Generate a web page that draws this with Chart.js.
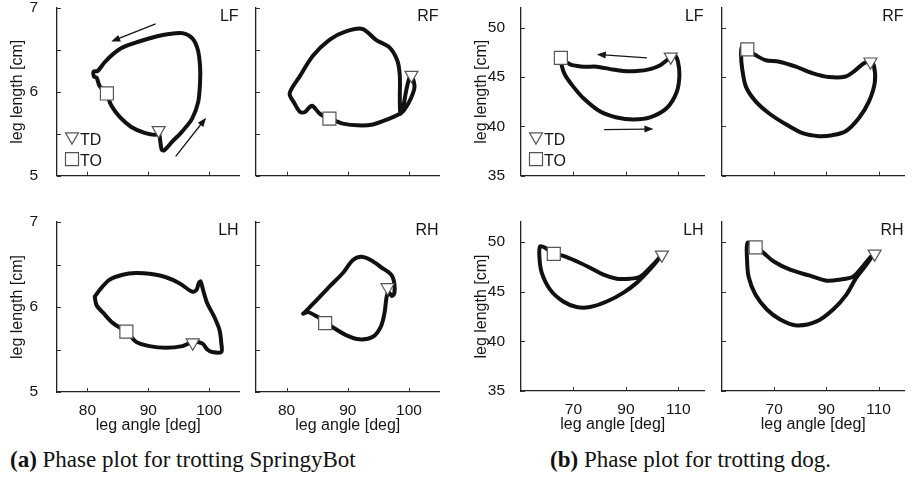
<!DOCTYPE html>
<html>
<head>
<meta charset="utf-8">
<script src="https://cdn.jsdelivr.net/npm/chart.js@4/dist/chart.umd.min.js"></script>
<style>
  body { margin: 0; background: #fff; }
  #fig { position: relative; width: 913px; height: 485px; overflow: hidden; }
  #fig canvas { position: absolute; }
  .cap { position: absolute; top: 447px; font: 23px "Liberation Serif", serif; line-height: 26px; color: #111; white-space: nowrap; }
</style>
</head>
<body>
<div id="fig">
  <div class="cap" style="left:10px"><b>(a)</b> Phase plot for trotting SpringyBot</div>
  <div class="cap" style="left:550px"><b>(b)</b> Phase plot for trotting dog.</div>
</div>
<script>
// axis ticks
const botAngleTicks = [80, 90, 100];
const botLengthTicks = [5, 5.5, 6, 6.5, 7];
const botLengthLabels = [5, 6, 7];
const dogAngleTicks = [70, 90, 110];
const dogLengthTicks = [35, 40, 45, 50];
const dogLengthLabels = [35, 40, 45, 50];

// SpringyBot loops: leg angle [deg], leg length [cm]
const botLFAngle = [91.7, 91.9, 92.2, 92.6, 94.0, 95.6, 97.2, 98.2, 98.5, 98.5, 98.1, 97.2, 95.6, 93.4, 91.3, 88.5, 85.8, 84.2, 82.8, 81.7, 81.0, 81.1, 81.5, 82.0, 83.1, 83.9, 85.3, 87.2, 89.4, 91.3, 91.7];
const botLFLength = [5.55, 5.45, 5.31, 5.30, 5.41, 5.53, 5.68, 5.88, 6.11, 6.31, 6.51, 6.64, 6.70, 6.69, 6.66, 6.60, 6.53, 6.45, 6.35, 6.25, 6.24, 6.18, 6.17, 6.07, 5.98, 5.84, 5.70, 5.58, 5.51, 5.49, 5.55];
const botRFAngle = [86.9, 85.4, 84.3, 83.8, 83.0, 82.2, 81.3, 80.5, 82.2, 84.3, 87.0, 89.7, 92.4, 94.6, 96.8, 98.1, 98.5, 98.5, 98.6, 99.0, 99.5, 100.0, 100.4, 100.9, 100.3, 99.2, 98.6, 96.8, 94.1, 91.6, 89.2, 88.1, 86.9];
const botRFLength = [5.68, 5.74, 5.83, 5.82, 5.76, 5.76, 5.86, 5.98, 6.19, 6.43, 6.62, 6.72, 6.75, 6.62, 6.53, 6.37, 6.19, 5.92, 5.74, 5.80, 6.00, 6.15, 6.20, 6.06, 5.92, 5.78, 5.74, 5.68, 5.61, 5.60, 5.62, 5.65, 5.68];
const botLHAngle = [81.2, 82.0, 83.6, 85.8, 88.0, 90.2, 92.9, 95.1, 97.2, 97.9, 98.3, 98.6, 99.0, 99.7, 100.8, 101.7, 102.0, 102.0, 100.5, 99.7, 98.9, 97.4, 95.6, 92.9, 90.2, 88.0, 86.4, 84.2, 82.6, 81.5, 81.2];
const botLHLength = [6.12, 6.20, 6.32, 6.38, 6.40, 6.39, 6.35, 6.28, 6.18, 6.20, 6.28, 6.30, 6.20, 6.04, 5.89, 5.73, 5.57, 5.47, 5.47, 5.50, 5.57, 5.59, 5.54, 5.52, 5.54, 5.59, 5.71, 5.81, 5.93, 6.02, 6.12];
const botRHAngle = [83.0, 84.9, 87.0, 89.2, 90.8, 92.2, 93.8, 95.4, 97.1, 97.6, 97.6, 97.2, 96.6, 96.3, 96.0, 95.4, 94.1, 91.9, 89.7, 87.8, 86.4, 84.9, 83.5, 82.7, 83.0];
const botRHLength = [5.94, 6.08, 6.24, 6.40, 6.55, 6.59, 6.55, 6.47, 6.38, 6.28, 6.16, 6.13, 6.18, 6.10, 5.93, 5.77, 5.65, 5.62, 5.67, 5.75, 5.82, 5.89, 5.94, 5.92, 5.94];

// dog loops: leg angle [deg], leg length [cm]
const dogLFAngle = [65.3, 65.5, 66.8, 70.0, 73.8, 80.2, 86.5, 92.9, 99.2, 105.6, 109.4, 110.4, 109.8, 108.6, 106.9, 105.6, 103.1, 99.2, 94.2, 89.0, 84.0, 78.9, 73.8, 68.7, 65.3];
const dogLFLength = [46.95, 46.2, 45.2, 44.0, 42.85, 41.5, 40.9, 40.7, 40.9, 41.85, 43.5, 45.2, 46.6, 47.2, 47.0, 46.7, 46.2, 45.8, 45.6, 45.6, 45.8, 46.05, 46.05, 46.28, 46.95];
const dogRFAngle = [59.5, 63.0, 66.8, 71.9, 78.3, 84.6, 91.0, 97.4, 101.2, 104.4, 106.7, 108.2, 108.6, 106.3, 102.5, 97.4, 92.3, 87.2, 80.9, 74.5, 68.1, 63.0, 59.2, 57.7, 57.3, 57.7, 59.5];
const dogRFLength = [47.8, 47.2, 46.7, 46.55, 46.05, 45.4, 45.0, 45.05, 45.7, 46.4, 46.6, 46.2, 44.5, 42.5, 40.85, 39.5, 39.1, 39.0, 39.3, 40.2, 41.3, 42.5, 44.0, 45.9, 47.4, 48.1, 47.8];
const dogLHAngle = [62.3, 66.1, 71.2, 76.3, 81.4, 86.5, 91.6, 95.4, 99.2, 102.4, 103.7, 101.8, 98.0, 94.2, 89.1, 82.7, 76.3, 71.2, 66.1, 61.1, 57.9, 57.0, 57.3, 59.2, 62.3];
const dogLHLength = [48.8, 48.6, 48.05, 47.4, 46.7, 46.3, 46.3, 46.5, 47.4, 48.3, 48.8, 48.05, 46.9, 45.9, 44.9, 44.0, 43.45, 43.45, 44.0, 45.2, 46.9, 48.55, 49.55, 49.4, 48.8];
const dogRHAngle = [62.8, 65.9, 69.7, 76.1, 83.7, 90.1, 95.1, 100.2, 104.0, 107.2, 108.5, 105.3, 101.5, 97.7, 92.6, 86.3, 78.6, 72.3, 67.2, 62.8, 60.2, 59.6, 59.8, 62.8];
const dogRHLength = [49.5, 48.9, 48.05, 47.2, 46.6, 46.1, 46.2, 46.5, 47.55, 48.55, 48.9, 47.7, 46.4, 44.7, 43.2, 42.0, 41.6, 42.2, 43.2, 44.7, 46.5, 48.2, 49.9, 49.5];

// touch-down / take-off events [angle, length]
const botTD = { LF: [91.7, 5.54], RF: [100.4, 6.20], LH: [97.3, 5.58], RH: [96.5, 6.23] };
const botTO = { LF: [83.2, 5.98], RF: [87.0, 5.68], LH: [86.4, 5.71], RH: [86.3, 5.81] };
const dogTD = { LF: [107.1, 47.05], RF: [106.9, 46.55], LH: [103.7, 48.7], RH: [108.5, 48.8] };
const dogTO = { LF: [65.2, 46.95], RF: [59.7, 47.8], LH: [62.5, 48.8], RH: [62.9, 49.45] };

// direction arrows [fromAngle, fromLength, toAngle, toLength]
const botArrows = [[91.2, 6.81, 83.9, 6.60], [94.5, 5.23, 99.5, 5.69]];
const dogArrows = [[98.0, 46.95, 78.9, 47.29], [81.7, 39.66, 100.5, 39.73]];

const FONT = '"Liberation Sans", Arial, sans-serif';
const INK = '#151515';
const fig = document.getElementById('fig');

const bot = { xr: [75, 105], yr: [5, 7], xt: botAngleTicks, yt: botLengthTicks, yl: botLengthLabels, td: botTD, to: botTO };
const dog = { xr: [50, 120], yr: [35, 52], xt: dogAngleTicks, yt: dogLengthTicks, yl: dogLengthLabels, td: dogTD, to: dogTO };

const panels = [
  { set: bot, leg: 'LF', ang: botLFAngle, len: botLFLength, box: [57, 8, 240, 178], yw: 57, titlePad: 7.5, lblPad: 11, xh: 8, key: true, arrows: botArrows },
  { set: bot, leg: 'RF', ang: botRFAngle, len: botRFLength, box: [256, 8, 440, 178], yw: 12, xh: 8 },
  { set: bot, leg: 'LH', ang: botLHAngle, len: botLHLength, box: [57, 222, 240, 392], yw: 57, titlePad: 7.5, lblPad: 11, xh: 50 },
  { set: bot, leg: 'RH', ang: botRHAngle, len: botRHLength, box: [256, 222, 440, 392], yw: 12, xh: 50 },
  { set: dog, leg: 'LF', ang: dogLFAngle, len: dogLFLength, box: [521, 8, 705, 178], yw: 71, titlePad: 21.5, lblPad: 8, xh: 8, key: true, arrows: dogArrows },
  { set: dog, leg: 'RF', ang: dogRFAngle, len: dogRFLength, box: [722, 8, 905, 178], yw: 12, xh: 8 },
  { set: dog, leg: 'LH', ang: dogLHAngle, len: dogLHLength, box: [521, 222, 705, 391], yw: 71, titlePad: 21.5, lblPad: 8, xh: 50 },
  { set: dog, leg: 'RH', ang: dogRHAngle, len: dogRHLength, box: [722, 222, 905, 391], yw: 12, xh: 50 }
];

const tdStyle = { pointStyle: 'triangle', rotation: 180, radius: 7.5 };
const toStyle = { pointStyle: 'rect', rotation: 0, radius: 9.2 };

function marker(ctx, style, x, y) {
  ctx.save();
  ctx.fillStyle = '#fff';
  ctx.strokeStyle = '#555';
  ctx.lineWidth = 1.2;
  Chart.helpers.drawPoint(ctx, { ...style, borderWidth: 1.2 }, x, y);
  ctx.restore();
}

function decorate(chart, p) {
  const { ctx, chartArea: a, scales: { x, y } } = chart;
  ctx.save();
  // inward tick marks
  ctx.strokeStyle = '#333';
  ctx.lineWidth = 1;
  ctx.beginPath();
  for (const v of p.set.xt) {
    const px = Math.round(x.getPixelForValue(v)) + 0.5;
    ctx.moveTo(px, a.bottom); ctx.lineTo(px, a.bottom - 4);
  }
  for (const v of p.set.yt) {
    const py = Math.round(y.getPixelForValue(v)) + 0.5;
    ctx.moveTo(a.left, py); ctx.lineTo(a.left + 4, py);
  }
  ctx.stroke();

  // leg name in the corner
  ctx.fillStyle = INK;
  ctx.font = '16px ' + FONT;
  ctx.textAlign = 'right';
  ctx.textBaseline = 'alphabetic';
  ctx.fillText(p.leg, a.right - 1, a.top + 12.5);

  // motion direction arrows
  for (const [x0, y0, x1, y1] of p.arrows || []) {
    const ax = x.getPixelForValue(x0), ay = y.getPixelForValue(y0);
    const bx = x.getPixelForValue(x1), by = y.getPixelForValue(y1);
    const t = Math.atan2(by - ay, bx - ax);
    ctx.strokeStyle = INK;
    ctx.lineWidth = 1.3;
    ctx.beginPath();
    ctx.moveTo(ax, ay);
    ctx.lineTo(bx - 7 * Math.cos(t), by - 7 * Math.sin(t));
    ctx.stroke();
    ctx.beginPath();
    ctx.moveTo(bx, by);
    ctx.lineTo(bx - 9 * Math.cos(t) + 3.5 * Math.sin(t), by - 9 * Math.sin(t) - 3.5 * Math.cos(t));
    ctx.lineTo(bx - 9 * Math.cos(t) - 3.5 * Math.sin(t), by - 9 * Math.sin(t) + 3.5 * Math.cos(t));
    ctx.closePath();
    ctx.fillStyle = INK;
    ctx.fill();
  }

  // TD / TO key
  if (p.key) {
    const kx = a.left + 15;
    marker(ctx, tdStyle, kx, a.bottom - 39);
    marker(ctx, toStyle, kx, a.bottom - 16.5);
    ctx.fillStyle = INK;
    ctx.textAlign = 'left';
    ctx.fillText('TD', kx + 8, a.bottom - 31);
    ctx.fillText('TO', kx + 8, a.bottom - 10);
  }
  ctx.restore();
}

function makePanel(p) {
  const padT = 12, padR = 10;
  const [l, t, r, b] = p.box;
  const cv = document.createElement('canvas');
  cv.width = p.yw + (r - l) + padR;
  cv.height = padT + (b - t) + p.xh;
  cv.style.left = (l - p.yw) + 'px';
  cv.style.top = (t - padT) + 'px';
  fig.appendChild(cv);

  const s = p.set;
  const loop = p.ang.map((v, i) => ({ x: v, y: p.len[i] }));
  const leftCol = p.titlePad !== undefined;
  const bottomRow = p.xh > 20;
  const tickFont = { family: FONT, size: 15.5 };
  const titleFont = { family: FONT, size: 16 };
  const zeroPad = sc => { sc.paddingLeft = 0; sc.paddingRight = 0; sc.paddingTop = 0; sc.paddingBottom = 0; };

  new Chart(cv, {
    type: 'scatter',
    data: {
      datasets: [
        {
          data: [{ x: s.td[p.leg][0], y: s.td[p.leg][1] }],
          pointStyle: 'triangle', rotation: 180, pointRadius: 7.5,
          backgroundColor: '#fff', borderColor: '#555', borderWidth: 1.2, order: 0
        },
        {
          data: [{ x: s.to[p.leg][0], y: s.to[p.leg][1] }],
          pointStyle: 'rect', pointRadius: 9.2,
          backgroundColor: '#fff', borderColor: '#555', borderWidth: 1.2, order: 0
        },
        {
          data: loop, showLine: true, pointRadius: 0,
          borderColor: '#111', borderWidth: 4, tension: 0.3,
          borderJoinStyle: 'round', borderCapStyle: 'round', order: 1
        }
      ]
    },
    options: {
      responsive: false,
      animation: false,
      events: [],
      layout: { padding: { top: padT, right: padR, left: 0, bottom: 0 } },
      plugins: { legend: { display: false }, tooltip: { enabled: false } },
      scales: {
        x: {
          type: 'linear', min: s.xr[0], max: s.xr[1],
          afterBuildTicks: sc => { sc.ticks = s.xt.map(v => ({ value: v })); },
          afterFit: sc => { sc.height = p.xh; zeroPad(sc); },
          grid: { display: false },
          border: { display: true, color: '#222', width: 1.3 },
          ticks: { display: bottomRow, font: tickFont, color: INK, padding: 1, maxRotation: 0 },
          title: { display: bottomRow, text: 'leg angle [deg]', font: titleFont, color: INK, padding: { top: 0, bottom: 6.5 } }
        },
        y: {
          type: 'linear', min: s.yr[0], max: s.yr[1],
          afterBuildTicks: sc => { sc.ticks = s.yt.map(v => ({ value: v })); },
          afterFit: sc => { sc.width = p.yw; zeroPad(sc); },
          grid: { display: false },
          border: { display: true, color: '#222', width: 1.3 },
          ticks: {
            display: leftCol, font: tickFont, color: INK, padding: p.lblPad || 0,
            callback: v => s.yl.includes(v) ? String(v) : ''
          },
          title: { display: leftCol, text: 'leg length [cm]', font: titleFont, color: INK, padding: { top: p.titlePad || 0, bottom: 0 } }
        }
      }
    },
    plugins: [{ id: 'panelDeco', afterDraw: chart => decorate(chart, p) }]
  });
}

panels.forEach(makePanel);
</script>
</body>
</html>
